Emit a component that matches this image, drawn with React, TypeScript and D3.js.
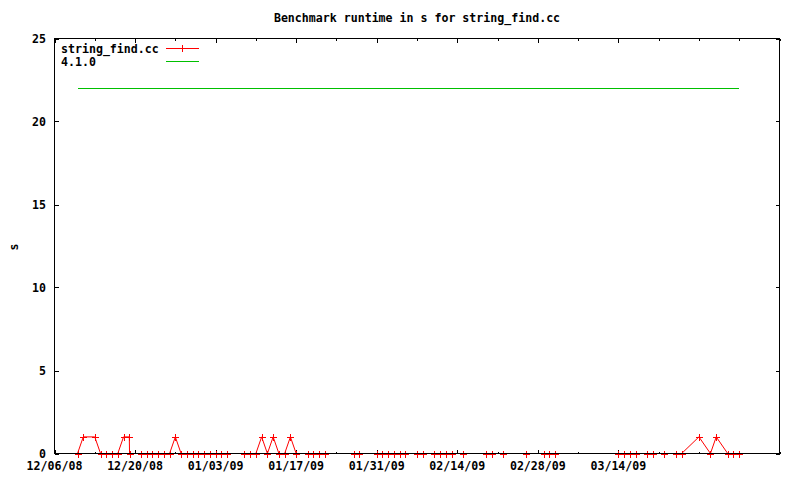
import React from "react";
import * as d3 from "d3";

const TITLE = "Benchmark runtime in s for string_find.cc";
const SERIES_NAME = "string_find.cc";
const REF_NAME = "4.1.0";
const Y_LABEL = "s";

const runDates: string[] = [
  "2008-12-10T00:00", "2008-12-11T00:00", "2008-12-13T00:00", "2008-12-14T00:00", "2008-12-15T00:00",
  "2008-12-16T00:00", "2008-12-17T00:00", "2008-12-18T00:00", "2008-12-19T00:00", "2008-12-19T01:00",
  "2008-12-21T00:00", "2008-12-22T00:00", "2008-12-23T00:00", "2008-12-24T00:00", "2008-12-25T00:00",
  "2008-12-26T00:00", "2008-12-27T00:00", "2008-12-28T00:00", "2008-12-29T00:00", "2008-12-30T00:00",
  "2008-12-31T00:00", "2009-01-01T00:00", "2009-01-02T00:00", "2009-01-03T00:00", "2009-01-04T00:00",
  "2009-01-05T00:00", "2009-01-08T00:00", "2009-01-09T00:00", "2009-01-10T00:00", "2009-01-11T00:00",
  "2009-01-12T00:00", "2009-01-13T00:00", "2009-01-14T00:00", "2009-01-15T00:00", "2009-01-16T00:00",
  "2009-01-17T00:00", "2009-01-19T00:00", "2009-01-20T00:00", "2009-01-21T00:00", "2009-01-22T00:00",
  "2009-01-27T00:00", "2009-01-28T00:00", "2009-01-31T00:00", "2009-02-01T00:00", "2009-02-02T00:00",
  "2009-02-03T00:00", "2009-02-04T00:00", "2009-02-05T00:00", "2009-02-07T00:00", "2009-02-08T00:00",
  "2009-02-10T00:00", "2009-02-11T00:00", "2009-02-12T00:00", "2009-02-13T00:00", "2009-02-15T00:00",
  "2009-02-19T00:00", "2009-02-20T00:00", "2009-02-22T00:00", "2009-02-26T00:00", "2009-03-01T00:00",
  "2009-03-02T00:00", "2009-03-03T00:00", "2009-03-14T00:00", "2009-03-15T00:00", "2009-03-16T00:00",
  "2009-03-17T00:00", "2009-03-19T00:00", "2009-03-20T00:00", "2009-03-22T00:00", "2009-03-24T00:00",
  "2009-03-25T00:00", "2009-03-28T00:00", "2009-03-30T00:00", "2009-03-31T00:00", "2009-04-02T00:00",
  "2009-04-03T00:00", "2009-04-04T00:00",
];

const runValues: number[] = [
  0, 1, 1, 0, 0,
  0, 0, 1, 1, 0,
  0, 0, 0, 0, 0,
  0, 1, 0, 0, 0,
  0, 0, 0, 0, 0,
  0, 0, 0, 0, 1,
  0, 1, 0, 0, 1,
  0, 0, 0, 0, 0,
  0, 0, 0, 0, 0,
  0, 0, 0, 0, 0,
  0, 0, 0, 0, 0,
  0, 0, 0, 0, 0,
  0, 0, 0, 0, 0,
  0, 0, 0, 0, 0,
  0, 1, 0, 1, 0,
  0, 0,
];

const refDates: string[] = ["2008-12-10T00:00", "2009-04-04T00:00"];
const refValues: number[] = [22, 22];

const xDomain: string[] = ["2008-12-06T00:00", "2009-04-11T00:00"];
const xLabelTicks: string[] = [
  "2008-12-06T00:00", "2008-12-20T00:00", "2009-01-03T00:00", "2009-01-17T00:00",
  "2009-01-31T00:00", "2009-02-14T00:00", "2009-02-28T00:00", "2009-03-14T00:00",
];
const yTicks: number[] = [0, 5, 10, 15, 20, 25];

const parse = d3.utcParse("%Y-%m-%dT%H:%M");
const fmt = d3.utcFormat("%m/%d/%y");

const W = 800;
const H = 480;
const L = 54.5, R = 779.5, T = 38.5, B = 453.5;
const FONT = "'DejaVu Sans Mono', 'Liberation Mono', monospace";
const RED = "#ff0000";
const GREEN = "#00c000";

export default function App() {
  const x = d3.scaleUtc().domain(xDomain.map((s) => parse(s)!)).range([L, R]);
  const y = d3.scaleLinear().domain([0, 25]).range([B, T]);

  const run = runDates.map((d, i) => ({ date: parse(d)!, v: runValues[i] }));
  const ref = refDates.map((d, i) => ({ date: parse(d)!, v: refValues[i] }));

  const line = d3
    .line<{ date: Date; v: number }>()
    .x((d) => x(d.date))
    .y((d) => y(d.v));

  const [d0, d1] = x.domain();
  const weekTicks = d3.utcSaturday.range(d0, d3.utcDay.offset(d1, 1));
  const labelTicks = xLabelTicks.map((s) => parse(s)!);
  const isMajor = (t: Date) => labelTicks.some((l) => +l === +t);

  const plus = (cx: number, cy: number, s = 3.5) =>
    `M${cx - s},${cy}H${cx + s}M${cx},${cy - s}V${cy + s}`;

  const textStyle: React.CSSProperties = {
    fontFamily: FONT,
    fontSize: "11.6px",
    fontWeight: "bold",
  };

  return (
    <svg
      width={W}
      height={H}
      style={{ position: "absolute", left: 0, top: 0, background: "#fff" }}
    >
      <rect x={0} y={0} width={W} height={H} fill="#fff" />
      <text x={(L + R) / 2} y={22} textAnchor="middle" style={textStyle} fill="#000">
        {TITLE}
      </text>
      <text
        transform={`translate(18,247) rotate(-90)`}
        textAnchor="middle"
        style={textStyle}
        fill="#000"
      >
        {Y_LABEL}
      </text>

      <g shapeRendering="crispEdges" stroke="#000">
        {yTicks.map((t) => (
          <g key={"y" + t}>
            <line x1={L} x2={L + 4} y1={Math.round(y(t)) + 0.5} y2={Math.round(y(t)) + 0.5} />
            <line x1={R} x2={R - 4} y1={Math.round(y(t)) + 0.5} y2={Math.round(y(t)) + 0.5} />
          </g>
        ))}
        {weekTicks.map((t, i) => {
          const xx = Math.round(x(t)) + 0.5;
          const len = isMajor(t) ? 4 : 2;
          return (
            <g key={"x" + i}>
              <line x1={xx} x2={xx} y1={B} y2={B - len} />
              <line x1={xx} x2={xx} y1={T} y2={T + len} />
            </g>
          );
        })}
      </g>
      {yTicks.map((t) => (
        <text
          key={"yl" + t}
          x={46}
          y={y(t)}
          dy="0.35em"
          textAnchor="end"
          style={textStyle}
          fill="#000"
        >
          {t}
        </text>
      ))}
      {labelTicks.map((t, i) => (
        <text
          key={"xl" + i}
          x={x(t)}
          y={470}
          textAnchor="middle"
          style={textStyle}
          fill="#000"
        >
          {fmt(t)}
        </text>
      ))}

      <path d={line(ref) || ""} fill="none" stroke={GREEN} strokeWidth={1} shapeRendering="crispEdges" />

      <path d={line(run) || ""} fill="none" stroke={RED} strokeWidth={1} />
      <g stroke={RED} strokeWidth={1} shapeRendering="crispEdges">
        {run.map((d, i) => (
          <path key={"m" + i} d={plus(Math.round(x(d.date)) + 0.5, Math.round(y(d.v)) + 0.5)} />
        ))}
      </g>

      <rect
        x={L}
        y={T}
        width={R - L}
        height={B - T}
        fill="none"
        stroke="#000"
        shapeRendering="crispEdges"
      />

      <text x={61} y={52.5} style={textStyle} fill="#000">
        {SERIES_NAME}
      </text>
      <line x1={166} x2={199} y1={48.5} y2={48.5} stroke={RED} shapeRendering="crispEdges" />
      <path d={plus(182.5, 48.5)} stroke={RED} shapeRendering="crispEdges" />
      <text x={61} y={65.5} style={textStyle} fill="#000">
        {REF_NAME}
      </text>
      <line x1={166} x2={199} y1={61.5} y2={61.5} stroke={GREEN} shapeRendering="crispEdges" />
    </svg>
  );
}
